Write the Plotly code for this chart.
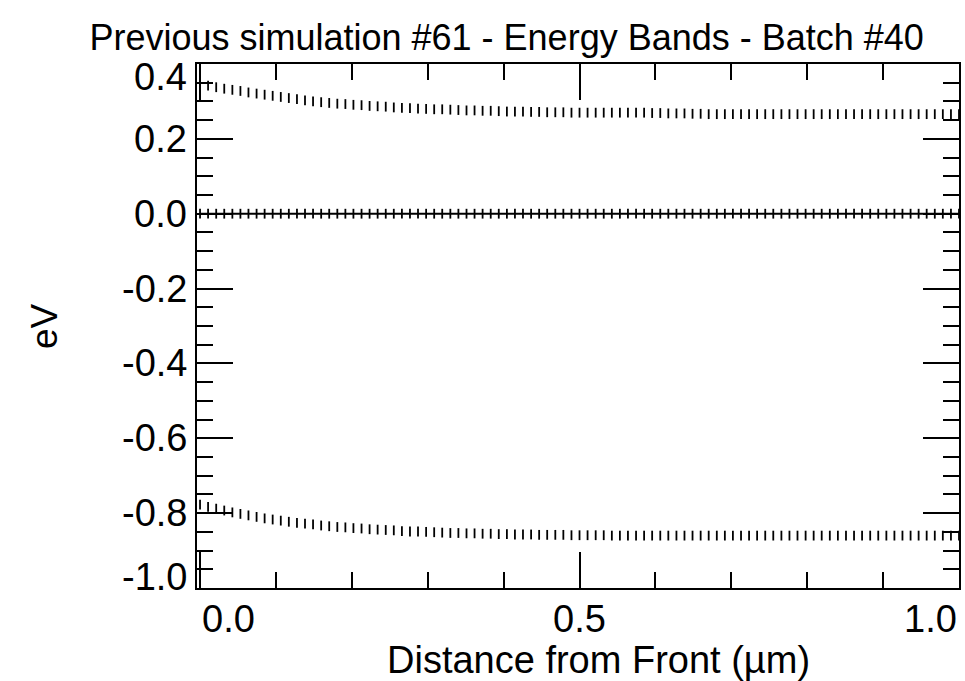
import plotly.graph_objects as go

# ---- data ----
distance_um = [
    0.0000, 0.0106, 0.0213, 0.0319, 0.0426, 0.0532, 0.0638, 0.0745, 0.0851, 0.0957,
    0.1064, 0.1170, 0.1277, 0.1383, 0.1489, 0.1596, 0.1702, 0.1809, 0.1915, 0.2021,
    0.2128, 0.2234, 0.2340, 0.2447, 0.2553, 0.2660, 0.2766, 0.2872, 0.2979, 0.3085,
    0.3191, 0.3298, 0.3404, 0.3511, 0.3617, 0.3723, 0.3830, 0.3936, 0.4043, 0.4149,
    0.4255, 0.4362, 0.4468, 0.4574, 0.4681, 0.4787, 0.4894, 0.5000, 0.5106, 0.5213,
    0.5319, 0.5426, 0.5532, 0.5638, 0.5745, 0.5851, 0.5957, 0.6064, 0.6170, 0.6277,
    0.6383, 0.6489, 0.6596, 0.6702, 0.6809, 0.6915, 0.7021, 0.7128, 0.7234, 0.7340,
    0.7447, 0.7553, 0.7660, 0.7766, 0.7872, 0.7979, 0.8085, 0.8191, 0.8298, 0.8404,
    0.8511, 0.8617, 0.8723, 0.8830, 0.8936, 0.9043, 0.9149, 0.9255, 0.9362, 0.9468,
    0.9574, 0.9681, 0.9787, 0.9894, 1.0000,
]

conduction_band_eV = [
    0.346, 0.342, 0.338, 0.334, 0.331, 0.328, 0.324, 0.321, 0.318, 0.315,
    0.312, 0.309, 0.306, 0.303, 0.300, 0.298, 0.296, 0.294, 0.293, 0.291,
    0.290, 0.288, 0.287, 0.286, 0.284, 0.283, 0.282, 0.281, 0.280, 0.279,
    0.279, 0.278, 0.277, 0.276, 0.276, 0.275, 0.275, 0.274, 0.273, 0.273,
    0.273, 0.272, 0.272, 0.271, 0.271, 0.271, 0.270, 0.270, 0.270, 0.270,
    0.270, 0.270, 0.270, 0.270, 0.270, 0.270, 0.269, 0.269, 0.268, 0.268,
    0.268, 0.267, 0.267, 0.266, 0.266, 0.266, 0.266, 0.266, 0.266, 0.266,
    0.266, 0.266, 0.266, 0.266, 0.266, 0.266, 0.266, 0.266, 0.266, 0.266,
    0.266, 0.266, 0.266, 0.266, 0.266, 0.266, 0.266, 0.266, 0.266, 0.266,
    0.266, 0.266, 0.266, 0.266, 0.266,
]

fermi_level_eV = [0.0] * 95

valence_band_eV = [
    -0.777, -0.783, -0.788, -0.793, -0.798, -0.802, -0.806, -0.810, -0.814, -0.817,
    -0.820, -0.823, -0.826, -0.828, -0.830, -0.833, -0.835, -0.837, -0.838, -0.840,
    -0.841, -0.843, -0.844, -0.845, -0.846, -0.848, -0.849, -0.849, -0.850, -0.851,
    -0.852, -0.853, -0.853, -0.854, -0.854, -0.855, -0.855, -0.856, -0.856, -0.857,
    -0.857, -0.857, -0.858, -0.858, -0.858, -0.858, -0.859, -0.859, -0.859, -0.859,
    -0.859, -0.860, -0.860, -0.860, -0.860, -0.860, -0.860, -0.860, -0.860, -0.860,
    -0.860, -0.860, -0.860, -0.860, -0.860, -0.860, -0.860, -0.860, -0.860, -0.860,
    -0.860, -0.860, -0.860, -0.860, -0.860, -0.860, -0.860, -0.860, -0.860, -0.860,
    -0.860, -0.860, -0.860, -0.860, -0.860, -0.860, -0.860, -0.860, -0.860, -0.860,
    -0.860, -0.860, -0.860, -0.860, -0.860,
]

x_tick_vals = [0.0, 0.5, 1.0]
x_tick_text = ["0.0", "0.5", "1.0"]
y_tick_vals = [0.4, 0.2, 0.0, -0.2, -0.4, -0.6, -0.8, -1.0]
y_tick_text = ["0.4", "0.2", "0.0", "-0.2", "-0.4", "-0.6", "-0.8", "-1.0"]

title_text = "Previous simulation #61 - Energy Bands - Batch #40"
x_title = "Distance from Front (µm)"
y_title = "eV"

FONT = "Liberation Sans, Arial, Helvetica, sans-serif"
BLACK = "#000000"

fig = go.Figure()

band_marker = dict(symbol="line-ns", size=7, color=BLACK, line=dict(width=1.8, color=BLACK))

fig.add_trace(go.Scatter(x=distance_um, y=conduction_band_eV, mode="markers",
                         marker=band_marker, showlegend=False, cliponaxis=True))
fig.add_trace(go.Scatter(x=distance_um, y=fermi_level_eV, mode="lines+markers",
                         line=dict(color=BLACK, width=2),
                         marker=band_marker, showlegend=False, cliponaxis=True))
fig.add_trace(go.Scatter(x=distance_um, y=valence_band_eV, mode="markers",
                         marker=band_marker, showlegend=False, cliponaxis=True))

axis_common = dict(
    showline=True, linecolor=BLACK, linewidth=2, mirror="allticks",
    ticks="inside", tickcolor=BLACK, tickwidth=2, ticklen=36,
    showgrid=False, zeroline=False, showticklabels=False,
)

fig.update_xaxes(range=[-0.004, 1.0], tickmode="array", tickvals=x_tick_vals,
                 minor=dict(ticks="inside", dtick=0.1, tick0=0, ticklen=16,
                            tickwidth=2, tickcolor=BLACK, showgrid=False),
                 **axis_common)
fig.update_yaxes(range=[-1.0, 0.4], tickmode="array", tickvals=y_tick_vals,
                 minor=dict(ticks="inside", dtick=0.05, tick0=0, ticklen=16,
                            tickwidth=2, tickcolor=BLACK, showgrid=False),
                 **axis_common)

TICK_SIZE = 38
annotations = []
# y tick labels (end labels kept inside the axis span, as in the reference)
for v, t in zip(y_tick_vals, y_tick_text):
    if v == y_tick_vals[0]:
        ya, ys = "top", 10
    elif v == y_tick_vals[-1]:
        ya, ys = "bottom", -12
    else:
        ya, ys = "middle", 0
    annotations.append(dict(x=0, xref="paper", y=v, yref="y", text=t, showarrow=False,
                            xanchor="right", yanchor=ya, xshift=-8, yshift=ys,
                            font=dict(family=FONT, size=TICK_SIZE, color=BLACK)))
# x tick labels
for v, t in zip(x_tick_vals, x_tick_text):
    if v == x_tick_vals[0]:
        xa = "left"
    elif v == x_tick_vals[-1]:
        xa = "right"
    else:
        xa = "center"
    annotations.append(dict(x=v, xref="x", y=0, yref="paper", text=t, showarrow=False,
                            xanchor=xa, yanchor="middle", yshift=-31,
                            font=dict(family=FONT, size=TICK_SIZE, color=BLACK)))
# axis titles
annotations.append(dict(x=0.527, xref="paper", y=0, yref="paper", text=x_title, showarrow=False,
                        xanchor="center", yanchor="middle", yshift=-72,
                        font=dict(family=FONT, size=38, color=BLACK)))
annotations.append(dict(x=0, xref="paper", y=0.5, yref="paper", text=y_title, showarrow=False,
                        xanchor="center", yanchor="middle", xshift=-153, textangle=-90,
                        font=dict(family=FONT, size=37, color=BLACK)))

fig.update_layout(
    width=965, height=681,
    margin=dict(l=197, r=4, t=64, b=93),
    paper_bgcolor="white", plot_bgcolor="white",
    title=dict(text=title_text, x=0.525, xanchor="center", y=0.945, yanchor="middle",
               font=dict(family=FONT, size=36, color=BLACK)),
    annotations=annotations,
    showlegend=False,
)

fig.write_html("out.html", config={"displayModeBar": False},
               post_script="document.body.style.margin='0';document.body.style.overflow='hidden';")
